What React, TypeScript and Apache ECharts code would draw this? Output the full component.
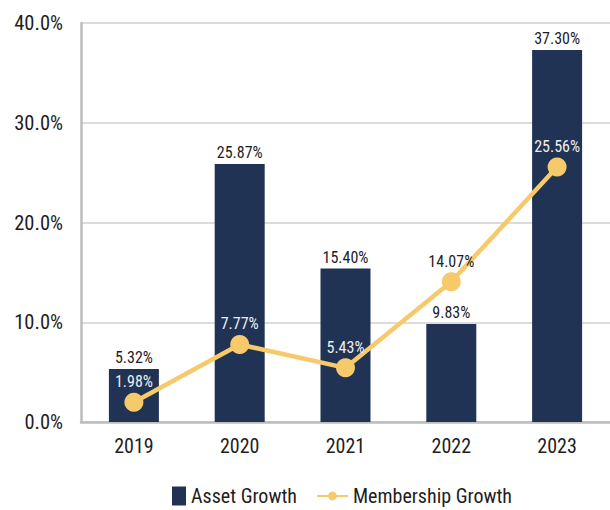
import React, { useEffect, useRef } from "react";
import * as echarts from "echarts";

const years = ["2019", "2020", "2021", "2022", "2023"];
const assetGrowth = [5.32, 25.87, 15.4, 9.83, 37.3];
const membershipGrowth = [1.98, 7.77, 5.43, 14.07, 25.56];
const membershipLabelOnBar = [true, true, true, false, true];
const yTicks = { min: 0, max: 40, interval: 10 };

const FONT = "'Roboto Condensed', 'DejaVu Sans Condensed', sans-serif";
const NAVY = "#203354";
const GOLD = "#f6c96b";
const INK = "#1f1d1e";

export default function App() {
  const ref = useRef<HTMLDivElement>(null);
  useEffect(() => {
    if (!ref.current) return;
    const chart = echarts.init(ref.current, undefined, { renderer: "svg" });
    chart.setOption({
      animation: false,
      textStyle: { fontFamily: FONT },
      grid: { left: 81, top: 23, width: 545, height: 399, containLabel: false },
      legend: [
        {
          data: ["Asset Growth"],
          left: 172,
          top: 486,
          padding: 0,
          icon: "rect",
          itemWidth: 14,
          itemHeight: 19,
          textStyle: { fontFamily: FONT, fontSize: 20, color: INK },
        },
        {
          data: ["Membership Growth"],
          left: 316,
          top: 486,
          padding: 0,
          itemWidth: 31,
          itemHeight: 11,
          textStyle: { fontFamily: FONT, fontSize: 20, color: INK },
        },
      ],
      xAxis: {
        type: "category",
        data: years,
        axisLine: { show: true, lineStyle: { color: "#bdbdbd", width: 2.5 } },
        axisTick: { show: false },
        axisLabel: { fontFamily: FONT, fontSize: 20, color: INK, margin: 14 },
      },
      yAxis: {
        type: "value",
        min: yTicks.min,
        max: yTicks.max,
        interval: yTicks.interval,
        axisLine: { show: true, lineStyle: { color: "#bdbdbd", width: 2.5 } },
        axisTick: { show: false },
        splitLine: { show: true, lineStyle: { color: "#cfcfcf", width: 1.5 } },
        axisLabel: {
          fontFamily: FONT,
          fontSize: 20.5,
          color: INK,
          margin: 18,
          padding: [8, 0, 0, 0],
          formatter: (v: number) => v.toFixed(1) + "%",
        },
      },
      series: [
        {
          name: "Asset Growth",
          type: "bar",
          data: assetGrowth,
          barWidth: 50,
          itemStyle: { color: NAVY },
          label: {
            show: true,
            position: "top",
            distance: 3,
            fontFamily: FONT,
            fontSize: 16,
            color: INK,
            formatter: (p: any) => p.value.toFixed(2) + "%",
          },
          z: 2,
        },
        {
          name: "Membership Growth",
          type: "line",
          data: membershipGrowth.map((v, i) => ({
            value: v,
            label: { color: membershipLabelOnBar[i] ? "#eeeeee" : INK },
          })),
          symbol: "circle",
          symbolSize: 19,
          lineStyle: { color: GOLD, width: 4.5 },
          itemStyle: { color: GOLD },
          label: {
            show: true,
            position: "top",
            distance: 3,
            fontFamily: FONT,
            fontSize: 16,
            formatter: (p: any) => p.value.toFixed(2) + "%",
          },
          z: 3,
        },
      ],
    });
    return () => chart.dispose();
  }, []);
  return (
    <div
      ref={ref}
      style={{ position: "fixed", left: 0, top: 0, width: 610, height: 510, background: "#ffffff" }}
    />
  );
}
